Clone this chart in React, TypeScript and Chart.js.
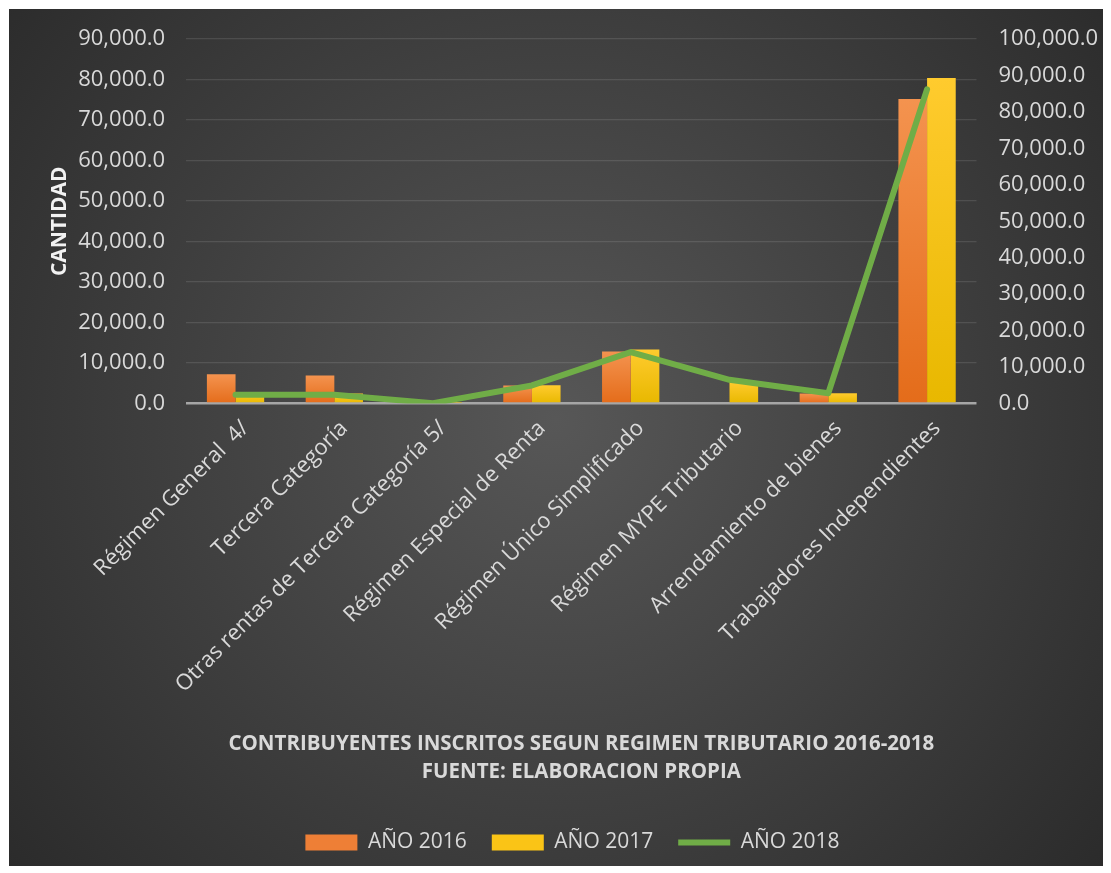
import React, { useEffect, useRef } from 'react';
import { Chart, registerables } from 'chart.js';

Chart.register(...registerables);

const categories = [
  'Régimen General  4/',
  'Tercera Categoría',
  'Otras rentas de Tercera Categoría 5/',
  'Régimen Especial de Renta',
  'Régimen Único Simplificado',
  'Régimen MYPE Tributario',
  'Arrendamiento de bienes',
  'Trabajadores Independientes',
];
const year2016 = [7200, 6900, 250, 4450, 12850, 0, 2500, 75200];
const year2017 = [2800, 2500, 200, 4500, 13350, 5300, 2550, 80400];
const year2018 = [2400, 2400, 100, 4950, 14100, 6500, 2800, 86200];
const seriesNames = ['AÑO 2016', 'AÑO 2017', 'AÑO 2018'];
const leftMax = 90000;
const rightMax = 100000;
const tickStep = 10000;
const titleLines = [
  'CONTRIBUYENTES INSCRITOS SEGUN REGIMEN TRIBUTARIO 2016-2018',
  'FUENTE: ELABORACION PROPIA',
];
const yTitle = 'CANTIDAD';

const FONT = "'Open Sans', 'DejaVu Sans', sans-serif";
const TEXT = '#d9d9d9';
const Y_PAD = 21;
const Y1_PAD = 22;
const legendFills = ['#EE7F36', '#FAC416'];

const fmt = (v: number) =>
  Number(v).toLocaleString('en-US', { minimumFractionDigits: 1, maximumFractionDigits: 1 });

const barGrad = (c1: string, c2: string) => (ctx: any) => {
  const chart = ctx.chart;
  if (!chart.chartArea || ctx.type !== 'data') return c2;
  const scale = chart.scales.y;
  if (!scale) return c2;
  const top = scale.getPixelForValue(ctx.raw);
  const bottom = scale.getPixelForValue(0);
  if (!isFinite(top) || !isFinite(bottom) || bottom - top < 1) return c2;
  const g = chart.ctx.createLinearGradient(0, top, 0, bottom);
  g.addColorStop(0, c1);
  g.addColorStop(1, c2);
  return g;
};

const bgPlugin = {
  id: 'bgPlugin',
  beforeDraw(chart: any) {
    const { ctx, width, height } = chart;
    ctx.save();
    const g = ctx.createRadialGradient(width * 0.5, height * 0.48, 0, width * 0.5, height * 0.48, Math.max(width, height) * 0.72);
    g.addColorStop(0, '#575757');
    g.addColorStop(1, '#262626');
    ctx.fillStyle = g;
    ctx.fillRect(0, 0, width, height);
    ctx.restore();
  },
};

export default function App() {
  const ref = useRef<HTMLCanvasElement | null>(null);
  useEffect(() => {
    if (!ref.current) return;
    const chart = new Chart(ref.current, {
      type: 'bar',
      data: {
        labels: categories,
        datasets: [
          {
            type: 'bar',
            label: seriesNames[0],
            data: year2016,
            yAxisID: 'y',
            backgroundColor: barGrad('#F4934F', '#E46C1A'),
            borderWidth: 0,
            order: 1,
            pointStyle: 'rect',
          } as any,
          {
            type: 'bar',
            label: seriesNames[1],
            data: year2017,
            yAxisID: 'y',
            backgroundColor: barGrad('#FFCB2E', '#E8B800'),
            borderWidth: 0,
            order: 1,
            pointStyle: 'rect',
          } as any,
          {
            type: 'line',
            label: seriesNames[2],
            data: year2018,
            yAxisID: 'y1',
            borderColor: '#70AD47',
            backgroundColor: '#70AD47',
            borderWidth: 6,
            borderCapStyle: 'round',
            borderJoinStyle: 'round',
            pointRadius: 0,
            tension: 0,
            order: 0,
            pointStyle: 'line',
          } as any,
        ],
      },
      options: {
        animation: false,
        responsive: true,
        maintainAspectRatio: false,
        layout: { padding: { top: 30, left: 38, right: 5, bottom: 3 } },
        datasets: {
          bar: { categoryPercentage: 0.58, barPercentage: 1 },
        } as any,
        scales: {
          x: {
            offset: true,
            grid: { display: false, drawTicks: false },
            border: { display: false },
            afterFit: (axis: any) => {
              axis.paddingLeft = 0;
              axis.paddingRight = 0;
            },
            ticks: {
              color: TEXT,
              font: { family: FONT, size: 22 },
              maxRotation: 45,
              minRotation: 45,
              autoSkip: false,
              padding: 12,
              labelOffset: 10,
            },
          },
          y: {
            position: 'left',
            min: 0,
            max: leftMax,
            afterFit: (axis: any) => {
              axis.width -= Y_PAD;
              axis.paddingTop = 0;
              axis.paddingBottom = 0;
            },
            ticks: {
              stepSize: tickStep,
              color: TEXT,
              font: { family: FONT, size: 22 },
              padding: Y_PAD,
              callback: (v: any) => fmt(v),
            },
            grid: {
              drawTicks: false,
              color: (c: any) => (c.tick && c.tick.value === 0 ? '#a6a6a6' : 'rgba(255,255,255,0.11)'),
              lineWidth: (c: any) => (c.tick && c.tick.value === 0 ? 2.5 : 1.3),
            },
            border: { display: false },
            title: {
              display: true,
              text: yTitle,
              color: '#f2f2f2',
              font: { family: FONT, size: 21, weight: 'bold' },
              padding: { top: 0, bottom: 6 },
            },
          },
          y1: {
            position: 'right',
            min: 0,
            max: rightMax,
            afterFit: (axis: any) => {
              axis.width -= Y1_PAD;
              axis.paddingTop = 0;
              axis.paddingBottom = 0;
            },
            ticks: {
              stepSize: tickStep,
              color: TEXT,
              font: { family: FONT, size: 22 },
              padding: Y1_PAD,
              callback: (v: any) => fmt(v),
            },
            grid: { drawOnChartArea: false, drawTicks: false },
            border: { display: false },
          },
        },
        plugins: {
          tooltip: { enabled: false },
          title: {
            display: true,
            position: 'bottom',
            fullSize: false,
            weight: 500,
            text: titleLines,
            color: TEXT,
            font: { family: FONT, size: 20.5, weight: 'bold', lineHeight: 1.37 },
            padding: { top: 20, bottom: 21 },
          } as any,
          legend: {
            display: true,
            position: 'bottom',
            weight: 1000,
            labels: {
              color: TEXT,
              font: { family: FONT, size: 21 },
              usePointStyle: true,
              pointStyleWidth: 52,
              boxHeight: 16,
              padding: 25,
              sort: (a: any, b: any) => a.datasetIndex - b.datasetIndex,
              generateLabels: (ch: any) => {
                const items = Chart.defaults.plugins.legend.labels.generateLabels(ch);
                items.forEach((it: any) => {
                  if (it.datasetIndex < legendFills.length) it.fillStyle = legendFills[it.datasetIndex];
                });
                return items;
              },
            },
          } as any,
        },
      } as any,
      plugins: [bgPlugin],
    });
    return () => chart.destroy();
  }, []);
  return (
    <div style={{ paddingLeft: 1, paddingTop: 1 }}>
      <div style={{ width: 1094, height: 857, position: 'relative' }}>
        <canvas ref={ref} />
      </div>
    </div>
  );
}
